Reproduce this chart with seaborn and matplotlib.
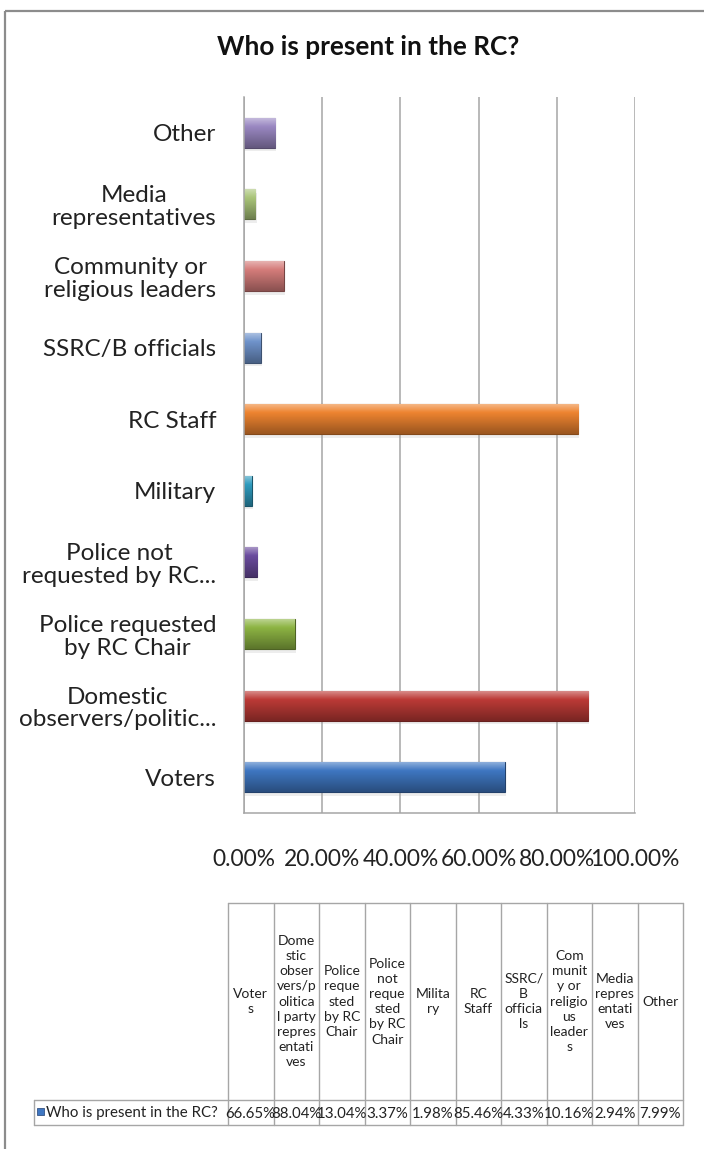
import numpy as np
import matplotlib
matplotlib.use("Agg")
import matplotlib.pyplot as plt
import matplotlib.colors as mcolors
from matplotlib.patches import Rectangle
from matplotlib.ticker import FuncFormatter
import seaborn as sns

# data, in the order of the table below the chart
categories = ["Voters", "Domestic observers/political party representatives",
              "Police requested by RC Chair", "Police not requested by RC Chair",
              "Military", "RC Staff", "SSRC/B officials",
              "Community or religious leaders", "Media representatives", "Other"]
axis_labels = ["Voters", "Domestic\nobservers/politic...", "Police requested\nby RC Chair",
               "Police not\nrequested by RC...", "Military", "RC Staff", "SSRC/B officials",
               "Community or\nreligious leaders", "Media\nrepresentatives", "Other"]
header_labels = ["Voter\ns", "Dome\nstic\nobser\nvers/p\nolitica\nl party\nrepres\nentati\nves",
                 "Police\nreque\nsted\nby RC\nChair", "Police\nnot\nreque\nsted\nby RC\nChair",
                 "Milita\nry", "RC\nStaff", "SSRC/\nB\nofficia\nls",
                 "Com\nmunit\ny or\nreligio\nus\nleader\ns", "Media\nrepres\nentati\nves", "Other"]
values = [66.65, 88.04, 13.04, 3.37, 1.98, 85.46, 4.33, 10.16, 2.94, 7.99]
series_name = "Who is present in the RC?"
x_ticks = [0, 20, 40, 60, 80, 100]

colors = ["#3F77C2", "#BC3A36", "#8DB443", "#6B4C9E", "#2F9BBE",
          "#EE8430", "#6F93CB", "#D57D7B", "#AAC57A", "#9A88C2"]

sns.set_theme(style="white")
plt.rcParams["font.family"] = ["Lato", "DejaVu Sans"]

W, H = 704, 1149
fig = plt.figure(figsize=(W / 100, H / 100), dpi=100)

ax = fig.add_axes([244 / W, 1 - 813 / H, (635 - 244) / W, (813 - 97) / H])
plot_labels = axis_labels[::-1]
sns.barplot(x=values[::-1], y=plot_labels, hue=plot_labels, palette=colors[::-1],
            legend=False, orient="h", width=0.42, ax=ax, saturation=1)

# bevelled look: vertical gradient clipped to each bar
for p in list(ax.patches):
    base = np.array(mcolors.to_rgb(p.get_facecolor()))
    t = np.linspace(0, 1, 40)[:, None]
    light = base + (1 - base) * 0.45
    dark = base * 0.65
    grad = np.where(t < 0.3, light + (base - light) * (t / 0.3),
                    base + (dark - base) * ((t - 0.3) / 0.7))
    x0, y0, w, h = p.get_x(), p.get_y(), p.get_width(), p.get_height()
    ax.add_patch(Rectangle((x0 + 0.3, y0 + 0.05), w, h, color="#000000", alpha=0.07,
                           zorder=p.get_zorder() - 0.5, lw=0))
    im = ax.imshow(grad[:, None, :], extent=(x0, x0 + w, y0 + h, y0), aspect="auto",
                   zorder=p.get_zorder() + 0.1, interpolation="bilinear")
    im.set_clip_path(p)
    p.set_edgecolor(tuple(base * 0.55))
    p.set_linewidth(0.8)

ax.set_xlim(0, 100)
ax.set_ylim(9.5, -0.5)
ax.set_xticks(x_ticks)
ax.xaxis.set_major_formatter(FuncFormatter(lambda v, _: f"{v:.2f}%"))
ax.grid(axis="x", color="#A6A6A6", lw=1.1)
ax.grid(axis="y", visible=False)
ax.set_axisbelow(True)
ax.set_xlabel("")
ax.set_ylabel("")
for s in ["top", "right"]:
    ax.spines[s].set_visible(False)
for s in ["left", "bottom"]:
    ax.spines[s].set_color("#A6A6A6")
    ax.spines[s].set_linewidth(1.1)
ax.tick_params(axis="x", length=0, pad=26, labelsize=16.4, colors="#222222")
ax.tick_params(axis="y", length=0, pad=20, labelsize=17.5, colors="#222222")
for lab in ax.get_yticklabels():
    lab.set_multialignment("center")
    lab.set_linespacing(1.1)

# overlay in pixel coordinates: frame, title and data table
ov = fig.add_axes([0, 0, 1, 1], zorder=-1)
ov.set_xlim(0, W)
ov.set_ylim(H, 0)
ov.axis("off")
ov.add_patch(Rectangle((5, 11), 720, 1160, fill=False, ec="#8C8C8C", lw=1.6))
ov.text(368, 47, series_name, ha="center", va="center", fontsize=18.8,
        fontweight="bold", color="#111111")

col_x0, col_w = 228, 45.5
head_top, head_bot, row_bot = 903, 1100, 1125
line_kw = dict(color="#A6A6A6", lw=1)
n = len(categories)
ov.plot([col_x0, col_x0 + n * col_w], [head_top, head_top], **line_kw)
ov.plot([34, col_x0 + n * col_w], [head_bot, head_bot], **line_kw)
ov.plot([34, col_x0 + n * col_w], [row_bot, row_bot], **line_kw)
ov.plot([34, 34], [head_bot, row_bot], **line_kw)
for i in range(n + 1):
    xx = col_x0 + i * col_w
    ov.plot([xx, xx], [head_top, row_bot], **line_kw)
for i, (hl, v) in enumerate(zip(header_labels, values)):
    cx = col_x0 + (i + 0.5) * col_w
    ov.text(cx, (head_top + head_bot) / 2, hl, ha="center", va="center",
            fontsize=10, linespacing=1.32, color="#222222")
    ov.text(cx, (head_bot + row_bot) / 2 + 1, f"{v:.2f}%", ha="center", va="center",
            fontsize=10.8, color="#222222")
ov.add_patch(Rectangle((37, 1108), 7, 7, color=colors[0], ec="#1F3F73", lw=0.5))
ov.text(46, (head_bot + row_bot) / 2 + 1, series_name, ha="left", va="center",
        fontsize=10.8, color="#222222")

fig.savefig("out.png", dpi=100)
